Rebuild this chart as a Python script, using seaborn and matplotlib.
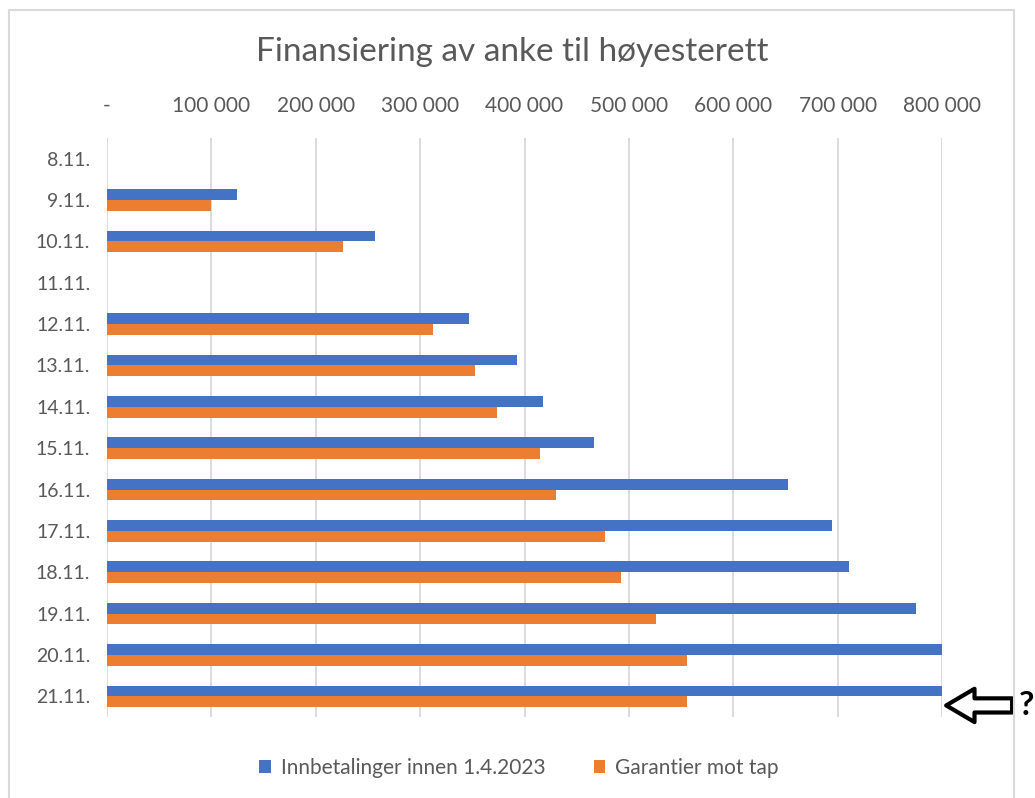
import numpy as np
import pandas as pd
import matplotlib.pyplot as plt
import seaborn as sns
from matplotlib.patches import Rectangle
from matplotlib.ticker import FuncFormatter

# data
dates = ["8.11.", "9.11.", "10.11.", "11.11.", "12.11.", "13.11.", "14.11.",
         "15.11.", "16.11.", "17.11.", "18.11.", "19.11.", "20.11.", "21.11."]
innbetalinger = [0, 125000, 257000, 0, 347000, 393000, 418000,
                 467000, 652000, 695000, 711000, 775000, 800000, 800000]
garantier = [0, 100000, 226000, 0, 312000, 353000, 374000,
             415000, 430000, 477000, 492000, 526000, 556000, 556000]
series = ["Innbetalinger innen 1.4.2023", "Garantier mot tap"]
colors = ["#4472C4", "#ED7D31"]
xmax = 800000

df = pd.DataFrame({
    "dato": dates * 2,
    "belop": innbetalinger + garantier,
    "serie": [series[0]] * len(dates) + [series[1]] * len(dates),
})

sns.set_theme(style="white")
plt.rcParams["font.family"] = ["Lato", "DejaVu Sans"]

fig = plt.figure(figsize=(10.35, 7.98), dpi=100)
ax = fig.add_axes([107 / 1035, 1 - 717 / 798, 835 / 1035, 579 / 798])

sns.barplot(data=df, x="belop", y="dato", hue="serie", order=dates,
            hue_order=series, palette=colors, orient="h", width=0.52,
            linewidth=0, saturation=1, ax=ax, legend=True)

ax.set_xlim(0, xmax)
ax.set_xticks(np.arange(0, xmax + 1, 100000))
ax.xaxis.set_major_formatter(FuncFormatter(
    lambda v, p: "-" if v == 0 else f"{int(v):,}".replace(",", " ")))
ax.xaxis.tick_top()
ax.tick_params(axis="both", length=0, labelcolor="#595959")
ax.tick_params(axis="x", pad=16, labelsize=15)
ax.tick_params(axis="y", pad=12, labelsize=14)
ax.set_xlabel("")
ax.set_ylabel("")
ax.grid(axis="x", color="#D9D9D9", linewidth=1.3)
ax.set_axisbelow(True)
for s in ax.spines.values():
    s.set_visible(False)

# title
fig.text(512 / 1035, 1 - 52 / 798, "Finansiering av anke til høyesterett",
         ha="center", va="center", fontsize=24, color="#595959")

# legend
handles, labels = ax.get_legend_handles_labels()
ax.get_legend().remove()
fig.legend(handles, labels, loc="center", bbox_to_anchor=(519 / 1035, 1 - 768 / 798),
           ncol=2, frameon=False, fontsize=15, labelcolor="#595959",
           handlelength=0.55, handleheight=0.55, handletextpad=0.5, columnspacing=2.3)

# hollow arrow + question mark next to the last date
yl = len(dates) - 1 + 0.22
ax.annotate("", xy=(xmax * 1.005, yl), xytext=(xmax * 1.084, yl),
            arrowprops=dict(arrowstyle="simple,head_length=1.7,head_width=2.0,tail_width=0.85",
                            fc="white", ec="black", lw=3, shrinkA=0, shrinkB=0),
            annotation_clip=False)
ax.text(xmax * 1.092, yl, "?", ha="left", va="center", fontsize=24,
        fontweight="bold", color="black", clip_on=False)

# chart area border
fig.patches.append(Rectangle((9 / 1035, -0.02), 1005 / 1035, 1 - 10 / 798 + 0.02,
                             transform=fig.transFigure, fill=False,
                             edgecolor="#D9D9D9", linewidth=1.5))

fig.savefig("out.png", dpi=100)
